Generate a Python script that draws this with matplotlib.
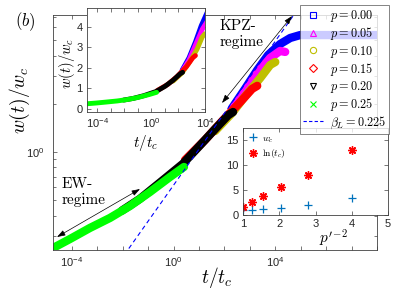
import numpy as np
import matplotlib
matplotlib.use('Agg')
import matplotlib.pyplot as plt
from matplotlib.lines import Line2D
from matplotlib.ticker import FixedLocator, FixedFormatter, NullLocator, NullFormatter

plt.rcParams['font.family'] = ['Liberation Sans', 'DejaVu Sans']
plt.rcParams['mathtext.fontset'] = 'cm'

# ---------------- data ----------------
p_labels = ['0.00', '0.05', '0.10', '0.15', '0.20', '0.25']
colors = ['#0000ff', '#ff00ff', '#bfbf00', '#ff0000', '#000000', '#00ff00']
markers = ['s', '^', 'o', 'D', 'v', 'x']

# log10(t/t_c) and w(t)/w_c for each p
lt_p000 = [2.30, 2.81, 3.29, 3.72, 4.19, 4.59, 4.98, 5.77, 8.10]
w_p000 = [1.88, 2.48, 3.25, 4.04, 4.73, 5.16, 5.38, 5.38, 5.38]
lt_p005 = [2.30, 2.81, 3.33, 3.80, 4.19, 4.39]
w_p005 = [1.83, 2.37, 3.16, 3.87, 4.28, 4.22]
lt_p010 = [1.63, 2.30, 2.85, 3.41, 3.80, 4.00]
w_p010 = [1.35, 1.75, 2.27, 2.90, 3.50, 3.65]
lt_p015 = [0.45, 1.24, 1.91, 2.62, 3.09, 3.29]
w_p015 = [0.89, 1.19, 1.56, 2.05, 2.48, 2.59]
lt_p020 = [-2.03, -1.32, -0.53, 0.37, 1.04, 1.63, 2.15, 2.34]
w_p020 = [0.43, 0.51, 0.645, 0.845, 1.10, 1.39, 1.70, 1.778]
lt_p025 = [-4.74, -4.07, -3.29, -2.50, -1.71, -0.93, -0.14, 0.41]
w_p025 = [0.251, 0.286, 0.335, 0.387, 0.46, 0.562, 0.698, 0.806]

series_lt = [lt_p000, lt_p005, lt_p010, lt_p015, lt_p020, lt_p025]
series_w = [w_p000, w_p005, w_p010, w_p015, w_p020, w_p025]

beta_L = 0.225
prefactor = 0.62
t_fit = [1e-6, 1e9]

p_prime_inv2 = [1.0, 1.235, 1.5625, 2.04, 2.78, 4.0]
w_c = [1.0, 1.08, 1.2, 1.45, 2.0, 3.4]
ln_tc = [1.7, 2.7, 3.8, 5.6, 8.1, 13.0]

# ---------------- figure ----------------
W, H = 399, 292
fig = plt.figure(figsize=(W / 100, H / 100), dpi=100)

def fx(px):
    return px / W

def fy(py):
    return 1 - py / H

axcol = '0.25'

def style_axes(a):
    for s in a.spines.values():
        s.set_color(axcol)
        s.set_linewidth(0.6)
    a.tick_params(which='both', direction='in', top=True, right=True,
                  colors=axcol, labelcolor='0.15', width=0.5)
    a.tick_params(which='major', length=3)
    a.tick_params(which='minor', length=2.5)

# main axes
ax = fig.add_axes([fx(53), fy(250), fx(377) - fx(53), fy(15) - fy(250)])
ax.set_xscale('log')
ax.set_yscale('log')
for lt, w, c in zip(series_lt, series_w, colors):
    ax.plot(10 ** np.array(lt), w, color=c, lw=6, solid_capstyle='round',
            solid_joinstyle='round', zorder=2)
t_fit = np.array(t_fit)
ax.plot(t_fit, prefactor * t_fit ** beta_L, color='#0000ff', lw=0.8,
        dashes=(4, 3), zorder=3)
ax.set_xlim(10 ** -4.74, 1e8)
ax.set_ylim(0.244, 7.18)
style_axes(ax)
xt = [10.0 ** k for k in range(-4, 9)]
ax.xaxis.set_major_locator(FixedLocator(xt))
ax.xaxis.set_major_formatter(FixedFormatter(
    [r'$\mathregular{10^{%d}}$' % k if k in (-4, 0, 4) else '' for k in range(-4, 9)]))
ax.xaxis.set_minor_locator(NullLocator())
ax.yaxis.set_major_locator(FixedLocator([1.0]))
ax.yaxis.set_major_formatter(FixedFormatter([r'$\mathregular{10^{0}}$']))
ax.yaxis.set_minor_locator(FixedLocator([0.3, 0.4, 0.5, 0.6, 0.7, 0.8, 0.9, 2, 3, 4, 5, 6, 7]))
ax.yaxis.set_minor_formatter(NullFormatter())
ax.tick_params(axis='both', labelsize=8)
ax.tick_params(axis='x', pad=4)
ax.tick_params(axis='y', pad=6)

fig.text(fx(217), fy(277), r'$t/t_c$', ha='center', va='center', fontsize=14)
fig.text(fx(20), fy(100), r'$w(t)/w_c$', ha='center', va='center', fontsize=14, rotation=90)
fig.text(fx(25), fy(22), r'$(b)$', ha='center', va='center', fontsize=12)

# arrows and regime text
arw = dict(arrowstyle='<|-|>,head_length=0.5,head_width=0.17', color='black', lw=0.5,
           shrinkA=0, shrinkB=0)
def afx(px):
    return (px - 53) / 324
def afy(py):
    return (250 - py) / 235
ax.annotate('', xy=(afx(222), afy(103)), xytext=(afx(292), afy(16)),
            xycoords='axes fraction', textcoords='axes fraction', arrowprops=arw, zorder=4)
ax.annotate('', xy=(afx(57), afy(237)), xytext=(afx(140), afy(189)),
            xycoords='axes fraction', textcoords='axes fraction', arrowprops=arw, zorder=4)
ax.text(afx(220), afy(34), 'KPZ-\nregime', transform=ax.transAxes, ha='left', va='center',
        fontsize=11, family='cmr10', linespacing=1.15)
ax.text(afx(62), afy(192), 'EW-\nregime', transform=ax.transAxes, ha='left', va='center',
        fontsize=11, family='cmr10', linespacing=1.15)

# inset 1 (linear y)
ax1 = fig.add_axes([fx(87), fy(112), fx(205) - fx(87), fy(8) - fy(112)])
ax1.set_xscale('log')
for lt, w, c in zip(series_lt, series_w, colors):
    ax1.plot(10 ** np.array(lt), w, color=c, lw=3.5, solid_capstyle='round',
             solid_joinstyle='round', zorder=2)
ax1.plot(t_fit, prefactor * t_fit ** beta_L, color='#0000ff', lw=0.7,
         dashes=(4, 3), zorder=3)
ax1.set_xlim(10 ** -4.75, 1e4)
ax1.set_ylim(-0.15, 4.9)
style_axes(ax1)
xt1 = [10.0 ** k for k in range(-4, 5)]
ax1.xaxis.set_major_locator(FixedLocator(xt1))
ax1.xaxis.set_major_formatter(FixedFormatter(
    [r'$\mathregular{10^{%d}}$' % k if k in (-4, 0, 4) else '' for k in range(-4, 5)]))
ax1.xaxis.set_minor_locator(NullLocator())
ax1.set_yticks([0, 1, 2, 3, 4])
ax1.tick_params(axis='both', labelsize=8, pad=3)
fig.text(fx(146), fy(143), r'$t/t_c$', ha='center', va='center', fontsize=11)
fig.text(fx(67), fy(63), r'$w(t)/w_c$', ha='center', va='center', fontsize=10.5, rotation=90)

# inset 2
ax2 = fig.add_axes([fx(243), fy(215), fx(388) - fx(243), fy(128) - fy(215)])
ax2.plot(p_prime_inv2, w_c, linestyle='none', marker='+', color='#0072bd',
         markersize=6, mew=0.9, label=r'$w_c$')
ax2.plot(p_prime_inv2, ln_tc, linestyle='none', marker=(8, 2, 0), color='#ff0000',
         markersize=6, mew=1.0, label=r'$\ln(t_c)$')
ax2.set_xlim(1, 5)
ax2.set_ylim(0, 17.4)
style_axes(ax2)
ax2.set_xticks([1, 2, 3, 4, 5])
ax2.set_yticks([0, 5, 10, 15])
ax2.tick_params(axis='both', labelsize=8, pad=3)
ax2.legend(loc='upper left', frameon=False, fontsize=7, handlelength=1.0,
           handletextpad=0.5, borderpad=0.3, labelspacing=0.25, borderaxespad=0.2)
fig.text(fx(333), fy(238), r"$p'^{-2}$", ha='center', va='center', fontsize=11)

# main legend
handles = [Line2D([], [], linestyle='none', marker=m, markerfacecolor='none',
                  markeredgecolor=c, color=c, markersize=4.5, mew=0.8)
           for m, c in zip(markers, colors)]
handles.append(Line2D([], [], color='#0000ff', lw=0.8, dashes=(3, 2)))
labels = [r'$p = %s$' % s for s in p_labels] + [r'$\beta_L = 0.225$']
leg = fig.legend(handles, labels, loc='upper left', bbox_to_anchor=(fx(300), fy(5)),
                 fontsize=8.8, frameon=True, fancybox=False, handlelength=1.7,
                 handletextpad=0.5, borderpad=0.25, labelspacing=0.1,
                 borderaxespad=0.0)
leg.get_frame().set_edgecolor('0.3')
leg.get_frame().set_linewidth(0.6)

fig.savefig('out.png', dpi=100)
